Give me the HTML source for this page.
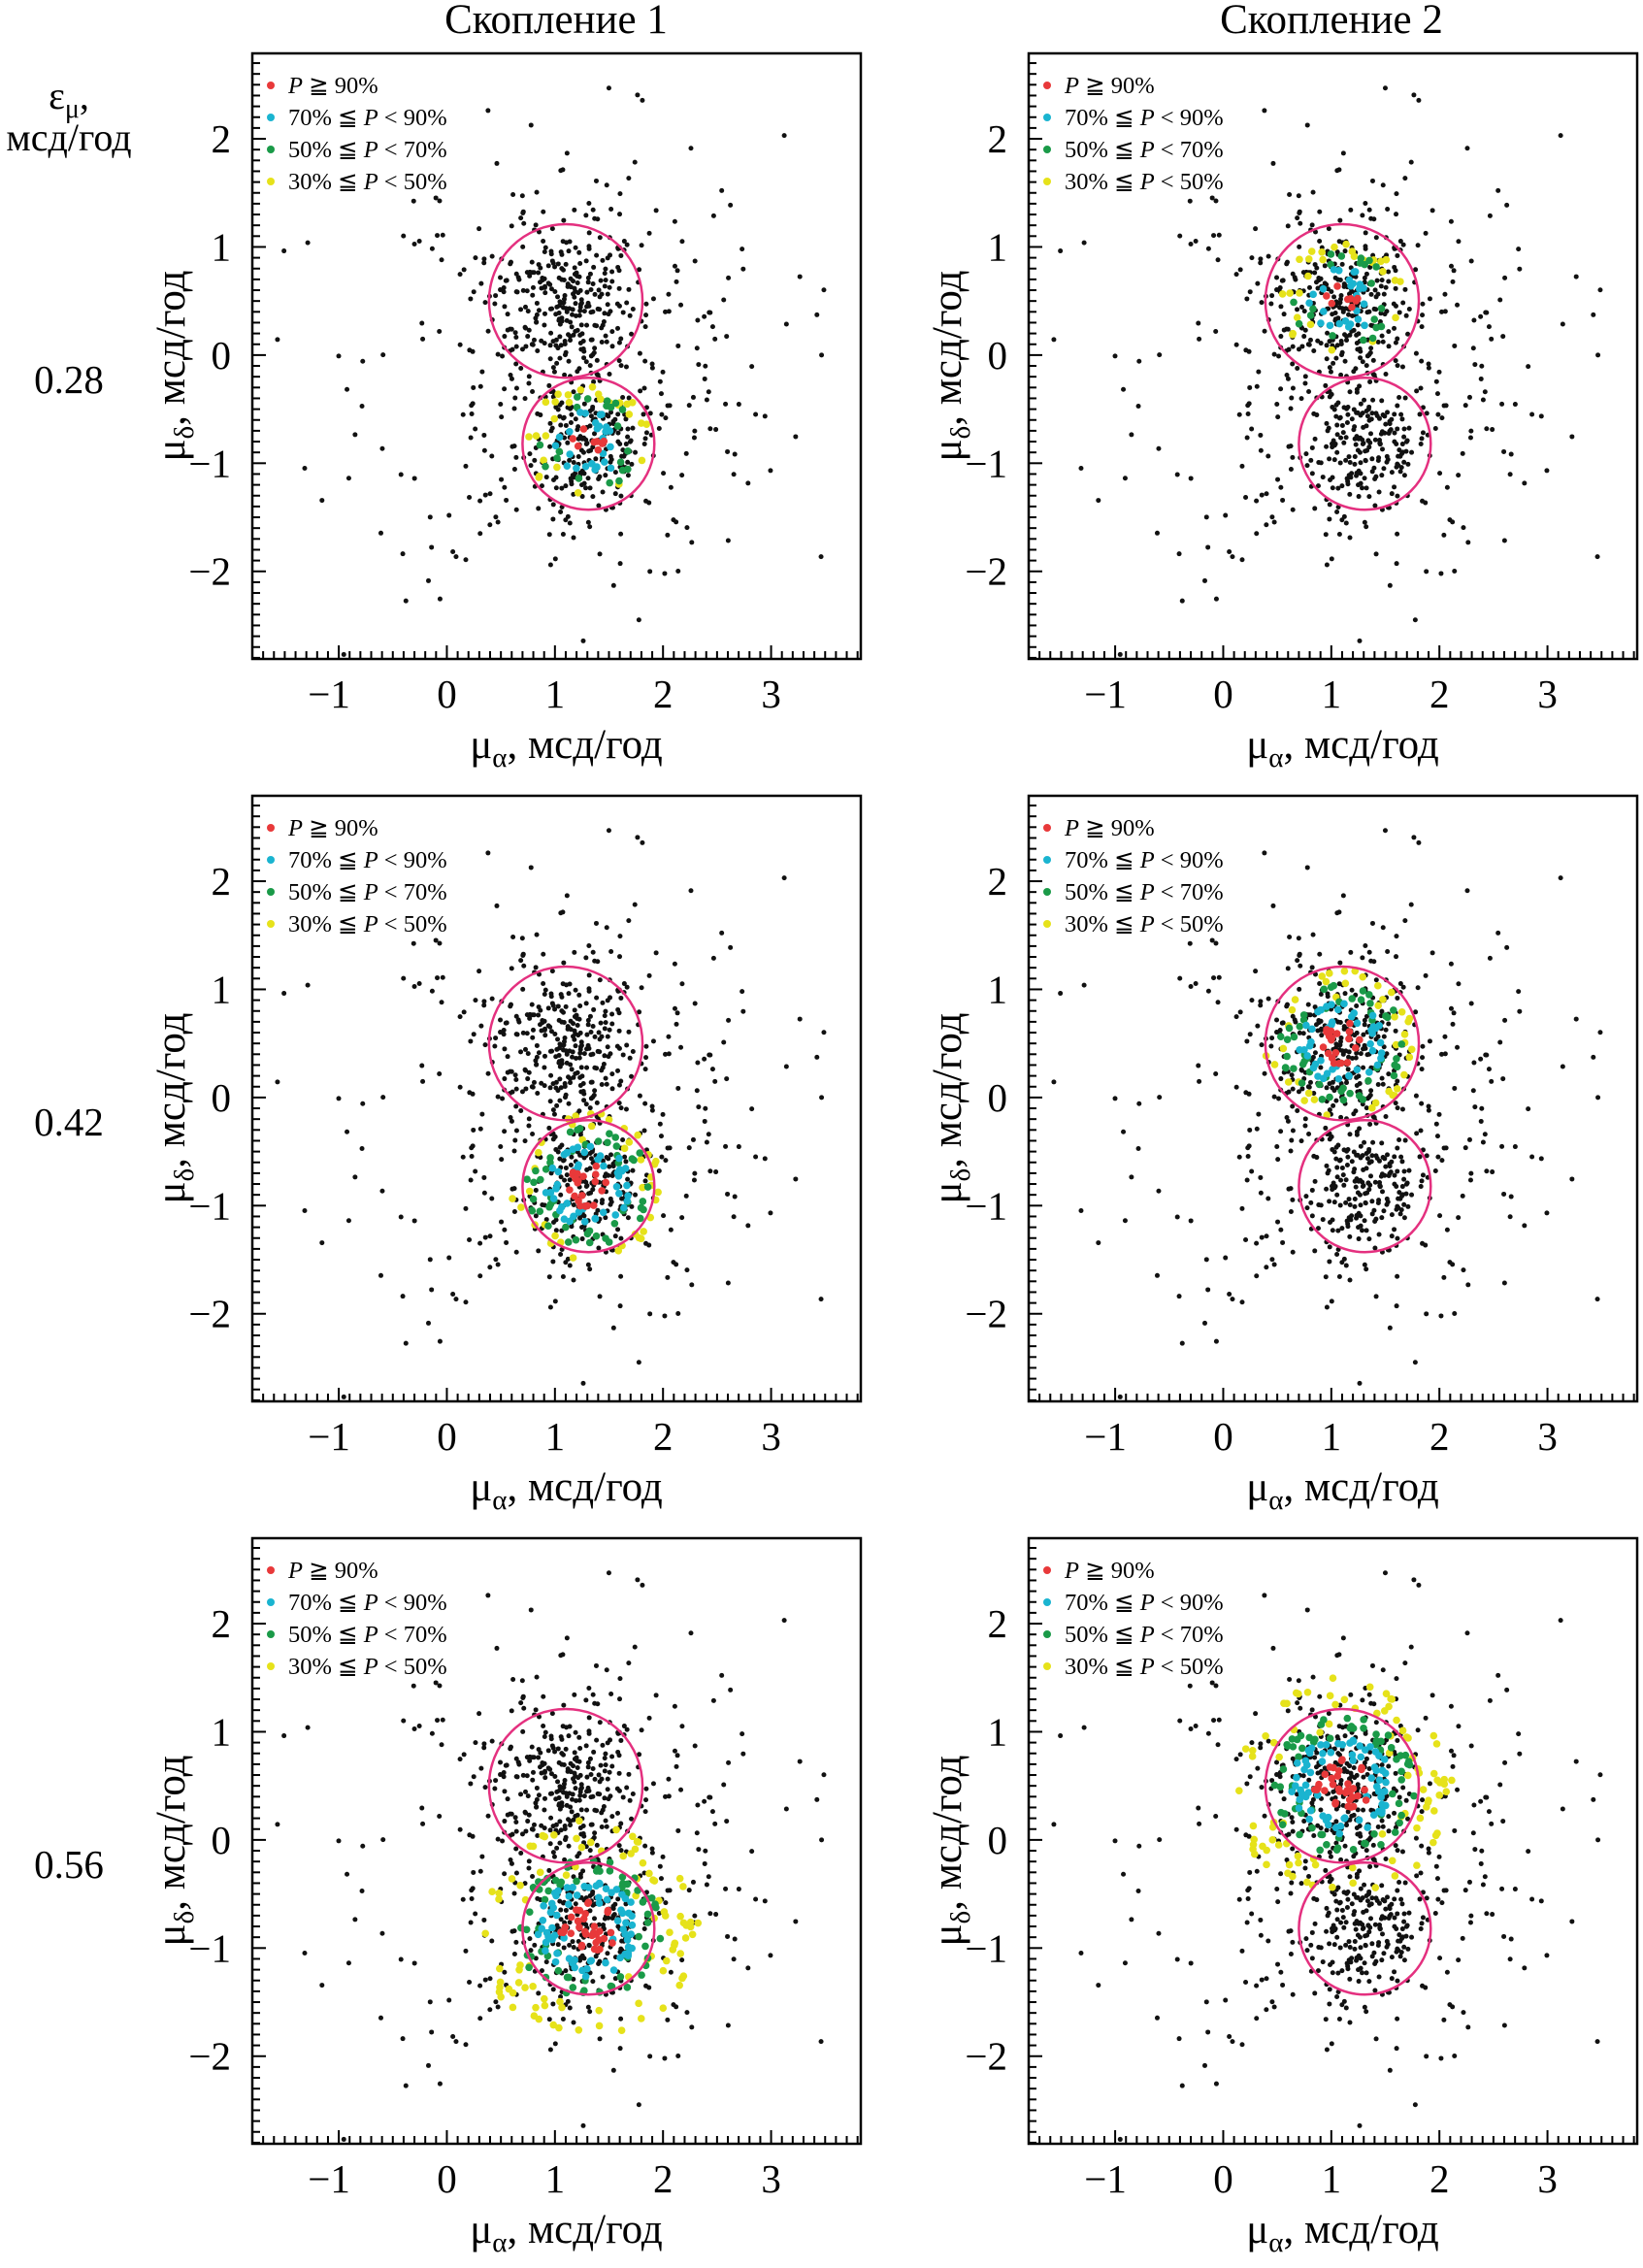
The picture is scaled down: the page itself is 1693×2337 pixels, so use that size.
<!DOCTYPE html>
<html><head><meta charset="utf-8"><style>
html,body{margin:0;padding:0;background:#fff;}
svg{display:block;font-family:"Liberation Serif",serif;}
</style></head><body>
<svg id="fig" width="1693" height="2337" viewBox="0 0 1693 2337" xmlns="http://www.w3.org/2000/svg">
<text x="573" y="34" font-size="43" text-anchor="middle">Скопление 1</text>
<text x="1372" y="34" font-size="43" text-anchor="middle">Скопление 2</text>
<text x="71" y="112" font-size="40" text-anchor="middle">ε<tspan font-size="28" dy="9">μ</tspan><tspan dy="-9">,</tspan></text>
<text x="71" y="155" font-size="40" text-anchor="middle">мсд/год</text>
<text x="71" y="405" font-size="41" text-anchor="middle">0.28</text>
<text x="71" y="1170" font-size="41" text-anchor="middle">0.42</text>
<text x="71" y="1935" font-size="41" text-anchor="middle">0.56</text>
</svg>
<script>
// Axis ranges and ticks
const xTicks = [-1, 0, 1, 2, 3];
const yTicks = [-2, -1, 0, 1, 2];
const xRange = [-1.8, 3.83];
const yRange = [-2.81, 2.79];
// Circles (cluster centres and radii in mas/yr)
const circleCenters = [[1.1, 0.5], [1.31, -0.82]];
const circleRadii = [0.71, 0.61];
// Membership classes
const classLabels = ["P ≧ 90%", "70% ≦ P < 90%", "50% ≦ P < 70%", "30% ≦ P < 50%"];
const classColors = ["#e8393a", "#1ab4d0", "#1a9a48", "#e6e21a"];
// coloured member counts per row (by class) and outer radius per class
const rowCounts = [[8, 25, 20, 28], [20, 45, 50, 40], [35, 70, 70, 90]];
const rowRadii = [[0.15, 0.3, 0.45, 0.55], [0.2, 0.38, 0.55, 0.68], [0.25, 0.45, 0.65, 1.0]];
// field-star population components: [cx, cy, sx, sy, n]
const fieldComponents = [[1.1, 0.5, 0.33, 0.33, 210], [1.3, -0.82, 0.33, 0.33, 190], [1.2, -0.1, 0.95, 1.05, 360]];

const rowTops = [55, 820, 1585];
const colLefts = [260, 1060];
const PW = 627, PH = 624;
const NS = "http://www.w3.org/2000/svg";
const svg = document.getElementById('fig');

let seed = 12345;
function rnd(){ seed = (seed * 1103515245 + 12345) % 2147483648; return seed / 2147483648; }
function gauss(){ let u = rnd() || 1e-6, v = rnd(); return Math.sqrt(-2*Math.log(u))*Math.cos(2*Math.PI*v); }

const field = [];
fieldComponents.forEach(c => { for (let i=0;i<c[4];i++){ const x=c[0]+c[2]*gauss(), y=c[1]+c[3]*gauss();
  if (x>xRange[0]+0.02 && x<xRange[1]-0.02 && y>yRange[0]+0.03 && y<yRange[1]-0.03) field.push([x,y]); }});
const members = rowCounts.map((counts, r) => counts.map((n, k) => {
  const inner = k===0 ? 0 : rowRadii[r][k-1]*0.75, outer = rowRadii[r][k];
  const pts = []; for (let i=0;i<n;i++){ const a = rnd()*2*Math.PI, rr = inner + (outer-inner)*Math.sqrt(rnd());
    pts.push([rr*Math.cos(a)*1.05, rr*Math.sin(a)]); } return pts; }));

function mk(tag, attrs, parent){ const e = document.createElementNS(NS, tag); for (const k in attrs) e.setAttribute(k, attrs[k]); (parent||svg).appendChild(e); return e; }

rowTops.forEach((top, r) => colLefts.forEach((left, c) => {
  const sx = v => left + (v - xRange[0]) / (xRange[1]-xRange[0]) * PW;
  const sy = v => top + (yRange[1] - v) / (yRange[1]-yRange[0]) * PH;
  const g = mk('g', {});
  
  
  field.forEach(p => { const e = mk('circle', {cx: sx(p[0]), cy: sy(p[1]), r: 2.5, fill: '#111'}, g);
    
     });
  const cc = circleCenters[c===0 ? 1 : 0];
  members[r].slice().reverse().forEach((pts, ki) => { const k = 3 - ki;
    pts.forEach(p => { const e = mk('circle', {cx: sx(cc[0]+p[0]), cy: sy(cc[1]+p[1]), r: 3.8, fill: classColors[k]}, g);
      
       }); });
  circleCenters.forEach((cc2, i) => { const e = mk('ellipse', {cx: sx(cc2[0]), cy: sy(cc2[1]), rx: circleRadii[i]/(xRange[1]-xRange[0])*PW, ry: circleRadii[i]/(yRange[1]-yRange[0])*PH, fill: 'none', stroke: '#e4307f', 'stroke-width': 2.5}, g);
    
     });
  const f = mk('rect', {x: left, y: top, width: PW, height: PH, fill: 'none', stroke: '#000', 'stroke-width': 2.5}, g);
  
  
  for (let t = -18; t <= 38; t++) { const v = t/10; if (v < xRange[0] || v > xRange[1]) continue;
    const L = t % 10 === 0 ? 14 : 8; mk('line', {x1: sx(v), x2: sx(v), y1: top+PH, y2: top+PH-L, stroke: '#000', 'stroke-width': 2}, g); }
  for (let t = -28; t <= 27; t++) { const v = t/10;
    const L = t % 10 === 0 ? 14 : 8; mk('line', {x1: left, x2: left+L, y1: sy(v), y2: sy(v), stroke: '#000', 'stroke-width': 2}, g); }
  xTicks.forEach(v => { const e = mk('text', {x: sx(v) - (v<0?10:0), y: top+PH+50, 'font-size': 41, 'text-anchor': 'middle'}, g);
    e.textContent = v < 0 ? '\u2212' + (-v) : String(v);
    
     });
  yTicks.forEach(v => { const e = mk('text', {x: left-22, y: sy(v)+14, 'font-size': 41, 'text-anchor': 'end'}, g);
    e.textContent = v < 0 ? '\u2212' + (-v) : String(v);
    
     });
  const xt = mk('text', {x: left + PW/2 + 10, y: top+PH+102, 'font-size': 43, 'text-anchor': 'middle'}, g);
  xt.innerHTML = 'μ<tspan font-size="29" dy="9">α</tspan><tspan dy="-9">, мсд/год</tspan>';
  
  
  const yt = mk('text', {x: 0, y: 0, 'font-size': 43, 'text-anchor': 'middle', transform: 'translate(' + (left-70) + ',' + (top+PH/2+10) + ') rotate(-90)'}, g);
  yt.innerHTML = 'μ<tspan font-size="29" dy="9">δ</tspan><tspan dy="-9">, мсд/год</tspan>';
  
  
  classLabels.forEach((lab, k) => { const y = top + 33 + k*33;
    const d = mk('circle', {cx: left+19, cy: y, r: 4, fill: classColors[k]}, g);
    
    
    const t = mk('text', {x: left+37, y: y+8, 'font-size': 24.5}, g);
    t.innerHTML = lab.replace('P', '<tspan font-style="italic">P</tspan>');
    
     });
}));
</script>
</body></html>
